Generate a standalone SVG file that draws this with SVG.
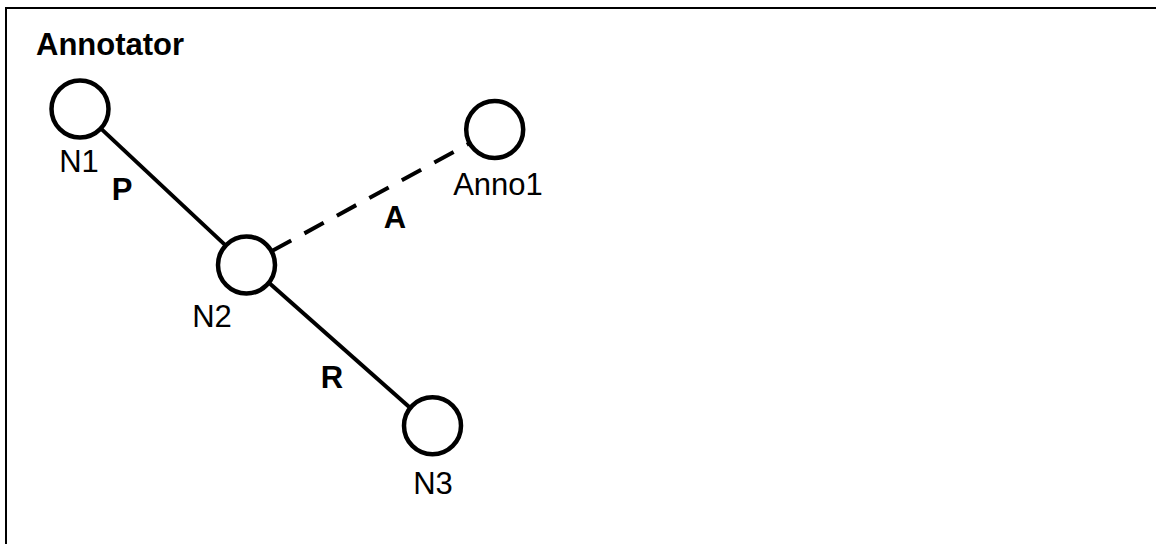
<svg xmlns="http://www.w3.org/2000/svg" width="1156" height="544" viewBox="0 0 1156 544">
  <style>
    .frame { fill: #ffffff; stroke: #000000; stroke-width: 2; }
    .node { fill: #ffffff; stroke: #000000; stroke-width: 4.5; }
    .edge { fill: none; stroke: #000000; stroke-width: 4; }
    .dashed { stroke-dasharray: 22 15; }
    .label { font-family: "Liberation Sans", Arial, sans-serif; font-size: 31px; fill: #000000; }
    .bold { font-weight: bold; }
    .mid { text-anchor: middle; }
  </style>

  <rect x="0" y="0" width="1156" height="544" fill="#ffffff"/>
  <!-- frame runs off the right and bottom edges -->
  <rect class="frame" x="6" y="8" width="1200" height="600"/>
  <text class="label bold" x="36" y="55">Annotator</text>

  <g id="connectors">
    <line class="edge" x1="100.7" y1="128.4" x2="225.8" y2="245.6"/>
    <line class="edge" x1="269.2" y1="283.1" x2="409.8" y2="407.6"/>
    <line class="edge dashed" x1="271.9" y1="251.1" x2="469.3" y2="143.4"/>
    <text class="label bold mid" x="122" y="200">P</text>
    <text class="label bold mid" x="395" y="228">A</text>
    <text class="label bold mid" x="332" y="388">R</text>
  </g>

  <g id="N1">
    <circle class="node" cx="80" cy="109" r="28.5"/>
    <text class="label mid" x="79" y="172">N1</text>
  </g>
  <g id="N2">
    <circle class="node" cx="246.5" cy="265" r="28.5"/>
    <text class="label mid" x="212" y="327">N2</text>
  </g>
  <g id="N3">
    <circle class="node" cx="432.5" cy="425.7" r="28.5"/>
    <text class="label mid" x="433" y="494">N3</text>
  </g>
  <g id="Anno1">
    <circle class="node" cx="494.7" cy="129.5" r="28.5"/>
    <text class="label mid" x="498" y="195">Anno1</text>
  </g>
</svg>
